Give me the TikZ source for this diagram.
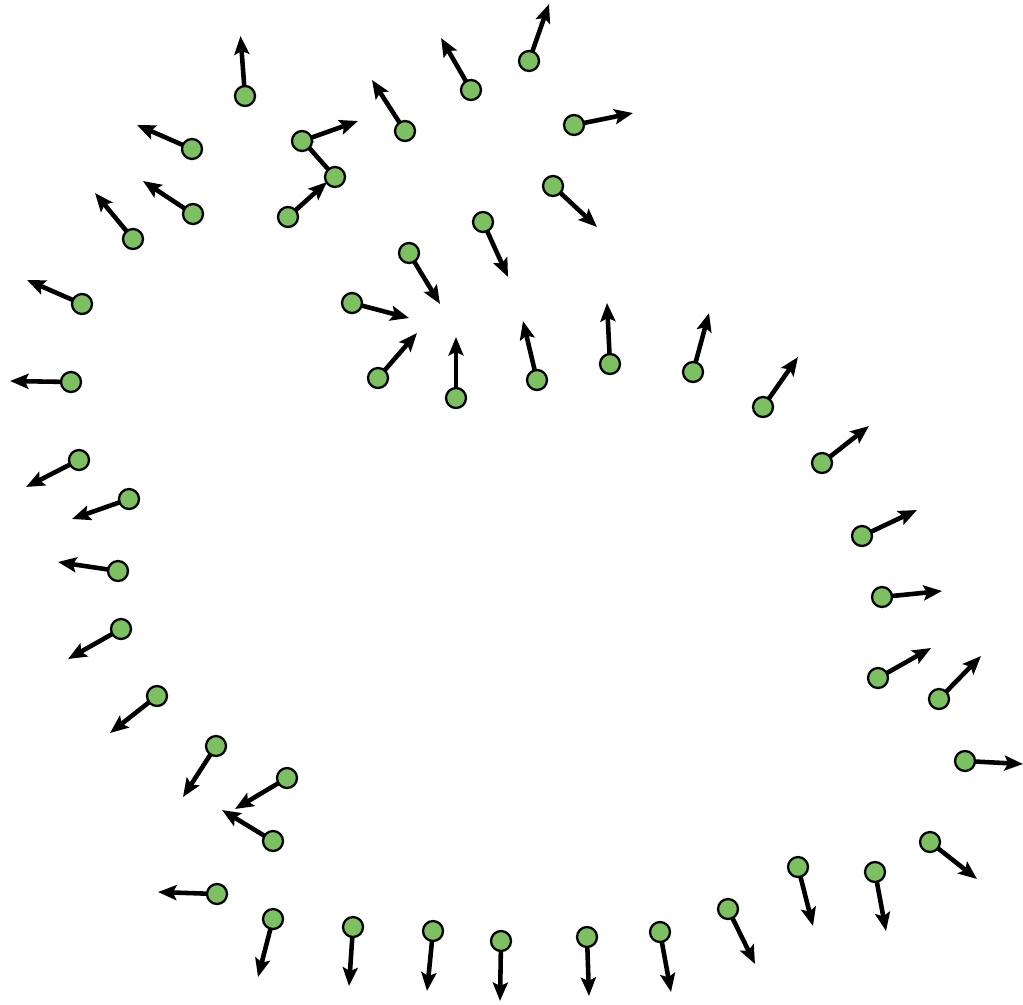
\documentclass[tikz,border=0pt]{standalone}
\usetikzlibrary{arrows.meta}
\definecolor{dotgreen}{RGB}{124,192,98}
\pgfdeclarelayer{back}
\pgfsetlayers{back,main}
\begin{document}
\begin{tikzpicture}[x=0.02cm,y=-0.02cm,
  dot/.style={circle,draw=black,fill=dotgreen,line width=1.3pt,minimum size=0.40cm,inner sep=0pt},
  vec/.style={line width=2.6pt,-{Stealth[length=10.5pt,width=8.5pt,inset=2pt]}}]
\useasboundingbox (0,0) rectangle (1023,1004);
\foreach \x/\y/\tx/\ty [count=\i] in {
 245/96/240.5/36, 192/149/137/125, 193/214/143/181, 133/239/95/193, 82/304/27/280,
 302/141/358/121, 335/177/296/133, 288/217/327/182, 405/131/372/80, 471/90/441/38,
 529/61/549/4, 574/125/633/113, 553/186/597/227, 483/222/508/277, 409/253/440/304,
 352/303/409/318, 378/378/417/333, 456/398/456/337, 537/380/523/321, 610/364/607/303,
 693/372/709/313, 763/407/798/357, 822/463/869/426, 862/536/917/510, 882/597/942/591,
 878/678/931/648, 939/699/981/656, 965/761/1023/764, 930/842/977/879, 875/872/886/931,
 798/867/813/926, 728/909/755/964, 660/932/671/992, 587/937/589/996, 501/941/500/1001,
 433/931/427/991, 353/927/349/986, 273/919/258/977, 217/894/158/892, 273/841/222/810,
 287/778/235/809, 216/746/183/797, 157/696/110/733, 121/629/68/659, 118/571/58/562,
 129/499/72/519, 79/460/26/487, 71/382/10/381}
{
  \node[dot] (n\i) at (\x,\y) {};
  \coordinate (t\i) at (\tx,\ty);
}
\begin{pgfonlayer}{back}
\foreach \i in {1,...,48} { \draw[vec] (n\i.center) -- (t\i); }
\end{pgfonlayer}
\end{tikzpicture}
\end{document}
